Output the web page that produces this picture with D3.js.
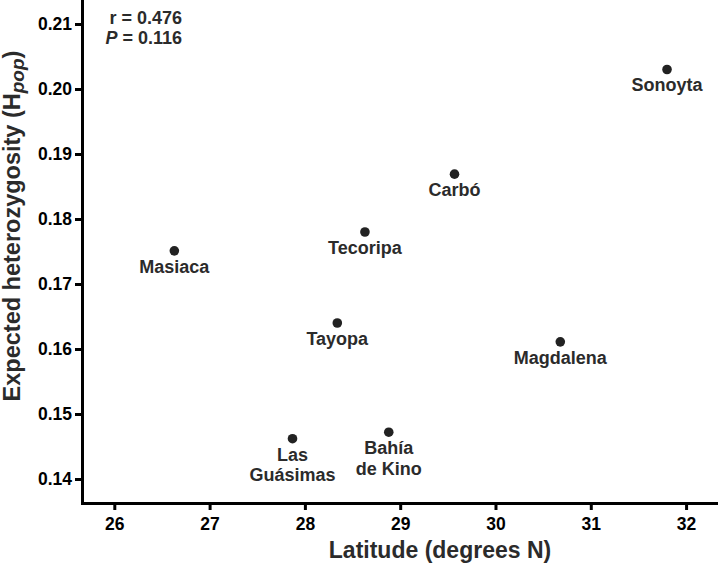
<!DOCTYPE html>
<html>
<head>
<meta charset="utf-8">
<script src="https://cdn.jsdelivr.net/npm/d3@7"></script>
<style>
  html, body { margin: 0; padding: 0; background: #fff; }
  svg { display: block; font-family: "Liberation Sans", Arial, Helvetica, sans-serif; }
</style>
</head>
<body>
<svg id="chart" width="718" height="565"></svg>
<script>
const sites = ["Masiaca", "Las Guásimas", "Tayopa", "Tecoripa", "Bahía de Kino", "Carbó", "Magdalena", "Sonoyta"];
const labelLines = [["Masiaca"], ["Las", "Guásimas"], ["Tayopa"], ["Tecoripa"], ["Bahía", "de Kino"], ["Carbó"], ["Magdalena"], ["Sonoyta"]];
const latitude = [26.63, 27.87, 28.34, 28.63, 28.88, 29.57, 30.68, 31.80];
const hpop = [0.1751, 0.1462, 0.1640, 0.1780, 0.1472, 0.1869, 0.1611, 0.2030];
const xTicks = [26, 27, 28, 29, 30, 31, 32];
const yTicks = [0.14, 0.15, 0.16, 0.17, 0.18, 0.19, 0.20, 0.21];
const statR = "0.476";
const statP = "0.116";

const svg = d3.select("#chart");
const mLeft = 82, mRight = 718, mTop = 0, mBottom = 503;

const x = d3.scaleLinear().domain([25.661, 32.335]).range([mLeft, mRight]);
const y = d3.scaleLinear().domain([0.13631, 0.21369]).range([mBottom, mTop]);

// Axes
const xAxis = d3.axisBottom(x).tickValues(xTicks).tickFormat(d3.format("d"))
  .tickSize(7).tickSizeOuter(0).tickPadding(8);
const yAxis = d3.axisLeft(y).tickValues(yTicks).tickFormat(d3.format(".2f"))
  .tickSize(7).tickSizeOuter(0).tickPadding(3);

const gx = svg.append("g").attr("transform", `translate(0,${mBottom})`).call(xAxis);
const gy = svg.append("g").attr("transform", `translate(${mLeft},0)`).call(yAxis);

[gx, gy].forEach(g => {
  g.select(".domain").attr("stroke", "#000").attr("stroke-width", 3).attr("stroke-linecap", "square");
  g.selectAll(".tick line").attr("stroke", "#000").attr("stroke-width", 3);
  g.selectAll(".tick text").attr("fill", "#000").attr("font-size", 17.5).attr("font-weight", "bold")
    .attr("font-family", "'Liberation Sans', Arial, sans-serif");
});

// Points
const data = sites.map((s, i) => ({ name: s, lines: labelLines[i], x: latitude[i], y: hpop[i] }));

svg.append("g").selectAll("circle").data(data).join("circle")
  .attr("cx", d => x(d.x)).attr("cy", d => y(d.y)).attr("r", 4.8).attr("fill", "#222");

const lab = svg.append("g").selectAll("text").data(data).join("text")
  .attr("x", d => x(d.x)).attr("y", d => y(d.y) + 22)
  .attr("text-anchor", "middle").attr("font-size", 18).attr("font-weight", "bold").attr("fill", "#2b2b2b");
lab.selectAll("tspan").data(d => d.lines.map(l => ({ l, x: x(d.x) }))).join("tspan")
  .attr("x", t => t.x).attr("dy", (t, i) => i === 0 ? 0 : 20.5).text(t => t.l);

// Stats annotation
const ann = svg.append("g").attr("font-size", 18).attr("font-weight", "bold").attr("fill", "#2b2b2b").attr("text-anchor", "end");
ann.append("text").attr("x", 182).attr("y", 24).text("r = " + statR);
const pt = ann.append("text").attr("x", 182).attr("y", 44);
pt.append("tspan").attr("font-style", "italic").text("P");
pt.append("tspan").text(" = " + statP);

// Axis titles
svg.append("text").attr("x", 440).attr("y", 558)
  .attr("text-anchor", "middle").attr("font-size", 23).attr("font-weight", "bold").attr("fill", "#2b2b2b")
  .text("Latitude (degrees N)");

const yt = svg.append("text").attr("transform", "translate(20,226) rotate(-90)")
  .attr("text-anchor", "middle").attr("font-size", 23.5).attr("font-weight", "bold").attr("fill", "#2b2b2b");
yt.append("tspan").text("Expected heterozygosity (H");
yt.append("tspan").attr("font-style", "italic").attr("font-size", 19).attr("dy", 4).text("pop");
yt.append("tspan").attr("dy", -4).text(")");
</script>
</body>
</html>
